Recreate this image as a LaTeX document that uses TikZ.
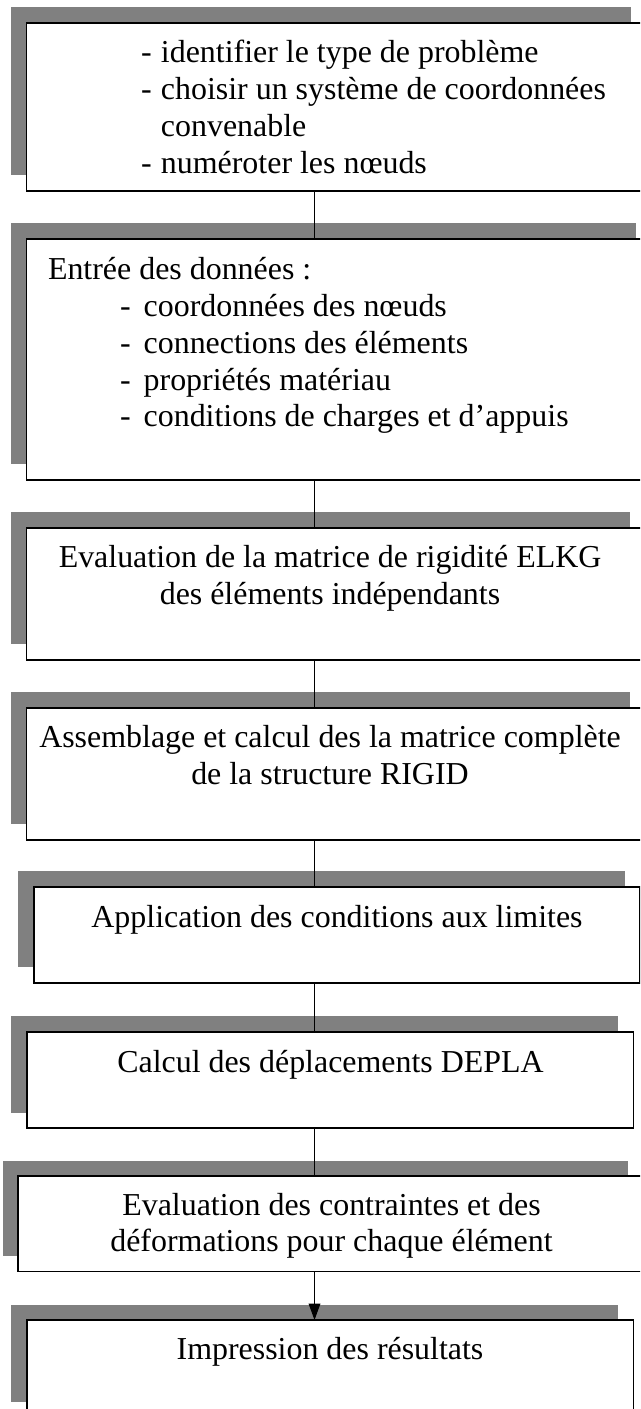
\documentclass[tikz,border=0pt]{standalone}
\usepackage{fontspec}
\setmainfont{Liberation Serif}
\usetikzlibrary{shadows,arrows.meta}
\definecolor{shadowgray}{RGB}{128,128,128}
% one drawing unit = one pixel of the final page
\def\pxu{0.3759pt}
\newcommand\dashA{\makebox[7.5pt][l]{-}}
\newcommand\dashB{\makebox[8.9pt][l]{-}}
\begin{document}
\begin{tikzpicture}[x=0.3759pt,y=-0.3759pt,
  stepbox/.style={draw=black, line width=0.7pt, fill=white, rectangle,
    inner sep=0pt, outer sep=0pt, anchor=north west,
    drop shadow={opacity=1, fill=shadowgray, shadow xshift=-5.83pt, shadow yshift=5.83pt}},
  boxtext/.style={inner sep=0pt, outer sep=0pt, font=\fontsize{12}{13.8}\selectfont},
  link/.style={line width=0.45pt, draw=black}]
\useasboundingbox (0,0) rectangle (640,1409);
\clip (0,0) rectangle (640,1409);

% process steps
\node[stepbox, minimum width=619.5*\pxu, minimum height=168*\pxu] (b1) at (26.5,23) {};
\node[stepbox, minimum width=625*\pxu,   minimum height=241*\pxu] (b2) at (26.5,239) {};
\node[stepbox, minimum width=619*\pxu,   minimum height=132*\pxu] (b3) at (26.5,527.7) {};
\node[stepbox, minimum width=619*\pxu,   minimum height=132*\pxu] (b4) at (26.5,707.7) {};
\node[stepbox, minimum width=606*\pxu,   minimum height=96*\pxu]  (b5) at (34,887) {};
\node[stepbox, minimum width=606.5*\pxu, minimum height=96*\pxu]  (b6) at (27,1032) {};
\node[stepbox, minimum width=624.6*\pxu, minimum height=95.5*\pxu] (b7) at (18.4,1176) {};
\node[stepbox, minimum width=606.5*\pxu, minimum height=97*\pxu]  (b8) at (27,1320) {};

% step texts
\node[boxtext, anchor=base west] (t1) at (141,63) {\parbox[t]{220pt}{\raggedright
  \dashA identifier le type de problème\\
  \dashA choisir un système de coordonnées\\
  \hspace*{7.5pt}convenable\\
  \dashA numéroter les nœuds}};
\node[boxtext, anchor=base west] (t2) at (48,280) {\parbox[t]{220pt}{\raggedright
  Entrée des données :\\
  \hspace*{27.07pt}\dashB coordonnées des nœuds\\
  \hspace*{27.07pt}\dashB connections des éléments\\
  \hspace*{27.07pt}\dashB propriétés matériau\\
  \hspace*{27.07pt}\dashB conditions de charges et d’appuis}};
\node[boxtext, anchor=base] (t3) at (330,567.7) {\parbox[t]{236pt}{\centering
  Evaluation de la matrice de rigidité ELKG\\des éléments indépendants}};
\node[boxtext, anchor=base] (t4) at (330,747.7) {\parbox[t]{236pt}{\centering
  Assemblage et calcul des la matrice complète\\de la structure RIGID}};
\node[boxtext, anchor=base] (t5) at (337,927) {\parbox[t]{220pt}{\centering
  Application des conditions aux limites}};
\node[boxtext, anchor=base] (t6) at (330.5,1072) {\parbox[t]{220pt}{\centering
  Calcul des déplacements DEPLA}};
\node[boxtext, anchor=base] (t7) at (331.5,1215) {\parbox[t]{220pt}{\centering
  Evaluation des contraintes et des\\déformations pour chaque élément}};
\node[boxtext, anchor=base] (t8) at (330,1359) {\parbox[t]{220pt}{\centering
  Impression des résultats}};

% connectors
\coordinate (cx) at (314.5,0);
\draw[link] (b1.south -| cx) -- (b2.north -| cx);
\draw[link] (b2.south -| cx) -- (b3.north -| cx);
\draw[link] (b3.south -| cx) -- (b4.north -| cx);
\draw[link] (b4.south -| cx) -- (b5.north -| cx);
\draw[link] (b5.south -| cx) -- (b6.north -| cx);
\draw[link] (b6.south -| cx) -- (b7.north -| cx);
\draw[link, -{Triangle[length=6.2pt,width=4.4pt]}] (b7.south -| cx) -- (b8.north -| cx);
\end{tikzpicture}
\end{document}
